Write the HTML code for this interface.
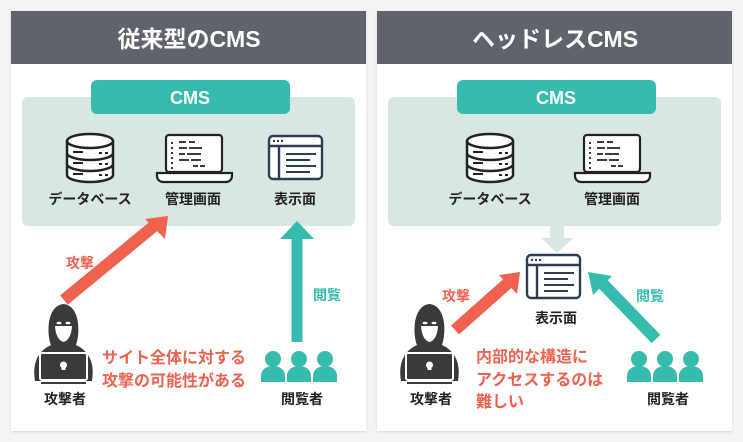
<!DOCTYPE html>
<html><head><meta charset="utf-8"><style>
html,body{margin:0;padding:0;background:#f3f4f6;}
svg{display:block;font-family:"Liberation Sans","Noto Sans CJK JP",sans-serif;}
</style></head><body>
<svg width="743" height="442" viewBox="0 0 743 442" xmlns="http://www.w3.org/2000/svg">
<defs>
<g id="db" fill="#fff" stroke="#222" stroke-width="2.5">
  <path d="M0,8 v34 a23,7 0 0 0 46,0 v-34"/>
  <ellipse cx="23" cy="8" rx="23" ry="7"/>
  <path d="M0,20 a23,7 0 0 0 46,0 M0,31 a23,7 0 0 0 46,0" fill="none"/>
  <path d="M6,19 h10 M6,30 h10 M6,41 h10 M32,20 h3 M38,20 h3 M32,31 h3 M38,31 h3 M32,42 h3 M38,42 h3" stroke-width="2"/>
</g>
<g id="lap" stroke="#222" stroke-width="2.2" fill="#fff">
  <rect x="9" y="0" width="56" height="37" rx="3"/>
  <path d="M0,38 h75 v3 a6,6 0 0 1 -6,6 h-63 a6,6 0 0 1 -6,-6z"/>
  <g stroke-width="1.8">
  <path d="M15,7 v2 M15,12 v2 M15,17 v2 M15,22 v2 M15,27 v2 M15,32 v2"/>
  <path d="M22,7 h7 M32,7 h6 M22,13 h8 M32,13 h13 M22,19 h6 M30,19 h14 M22,25 h10 M34,25 h10 M36,31 h5 M43,31 h5"/>
  </g>
</g>
<g id="disp" stroke="#2c3e50" stroke-width="2.4" fill="#fff">
  <rect x="0" y="0" width="53" height="43" rx="4"/>
  <path d="M0,10 h53 M10,10 v33" fill="none"/>
  <path d="M17,18 h30 M17,24 h24 M17,30 h30 M17,36 h24" fill="none" stroke-width="2"/>
  <circle cx="5" cy="5" r="0.8" fill="#2c3e50" stroke-width="0.8"/><circle cx="9" cy="5" r="0.8" fill="#2c3e50" stroke-width="0.8"/><circle cx="13" cy="5" r="0.8" fill="#2c3e50" stroke-width="0.8"/>
</g>
<g id="hack">
  <path d="M3,78 C0,60 6,48 19,42 C15,32 14,3 31.5,1 C49,3 48,32 44,42 C57,48 63,60 60,78z" fill="#3a3a3a"/>
  <path d="M23,21 h17 c0,11 -4,17 -8.5,18 c-4.5,-1 -8.5,-7 -8.5,-18z" fill="#fff"/>
  <path d="M22,17 h19 v6 h-19z" fill="#3a3a3a"/>
  <ellipse cx="27" cy="20" rx="2.5" ry="1.3" fill="#fff"/><ellipse cx="36" cy="20" rx="2.5" ry="1.3" fill="#fff"/>
  <rect x="8" y="50" width="47" height="27" rx="2" fill="#3a3a3a" stroke="#fff" stroke-width="2"/>
  <circle cx="31.5" cy="62" r="3.5" fill="#fff"/><rect x="29.5" y="64" width="4" height="3" fill="#fff"/>
  <rect x="9" y="79" width="45" height="2" fill="#3a3a3a"/>
</g>
<g id="person" fill="#36bcad">
  <circle cx="12" cy="9" r="8"/>
  <path d="M0,32 v-6 c0,-6 5,-10 12,-10 c7,0 12,4 12,10 v6z"/>
</g>
<filter id="sh" x="-5%" y="-5%" width="110%" height="110%"><feDropShadow dx="0" dy="1" stdDeviation="1.2" flood-color="#000" flood-opacity="0.12"/></filter>
</defs>

<!-- LEFT PANEL -->
<rect x="11" y="11" width="355" height="420" fill="#fff" filter="url(#sh)"/>
<rect x="11" y="11" width="355" height="53" fill="#5f636c"/>
<text x="189" y="47" text-anchor="middle" font-size="23" font-weight="bold" fill="#fff">従来型のCMS</text>
<rect x="22" y="97" width="333" height="129" rx="6" fill="#d8e6e4"/>
<rect x="91" y="80" width="199" height="34" rx="6" fill="#36bcad"/>
<text x="190" y="104" text-anchor="middle" font-size="18" font-weight="bold" fill="#fff">CMS</text>
<use href="#db" x="67" y="133"/>
<use href="#lap" x="157" y="135"/>
<use href="#disp" x="269" y="136"/>
<g font-size="14" font-weight="bold" fill="#222" text-anchor="middle">
<text x="90" y="204">データベース</text>
<text x="193" y="204">管理画面</text>
<text x="295" y="204">表示面</text>
</g>
<path d="M64,300 L154,226" stroke="#ef6250" stroke-width="12"/>
<path d="M145,219 L168,216 L165,239z" fill="#ef6250"/>
<text x="80" y="268" text-anchor="middle" font-size="14" font-weight="bold" fill="#ef6250">攻撃</text>
<path d="M297,342 V238" stroke="#36bcad" stroke-width="11"/>
<path d="M280,239 L297,221 L314,239z" fill="#36bcad"/>
<text x="327" y="300" text-anchor="middle" font-size="14" font-weight="bold" fill="#36bcad">閲覧</text>
<use href="#hack" x="32" y="303"/>
<text x="65" y="404" text-anchor="middle" font-size="14" font-weight="bold" fill="#222">攻撃者</text>
<g font-size="16" font-weight="bold" fill="#ef6250">
<text x="102" y="363">サイト全体に対する</text>
<text x="102" y="386">攻撃の可能性がある</text>
</g>
<use href="#person" x="261" y="350"/><use href="#person" x="287" y="350"/><use href="#person" x="313" y="350"/>
<text x="302" y="404" text-anchor="middle" font-size="14" font-weight="bold" fill="#222">閲覧者</text>

<!-- RIGHT PANEL -->
<rect x="377" y="11" width="355" height="420" fill="#fff" filter="url(#sh)"/>
<rect x="377" y="11" width="355" height="53" fill="#5f636c"/>
<text x="555" y="47" text-anchor="middle" font-size="23" font-weight="bold" fill="#fff">ヘッドレスCMS</text>
<rect x="388" y="97" width="333" height="129" rx="6" fill="#d8e6e4"/>
<rect x="457" y="80" width="199" height="34" rx="6" fill="#36bcad"/>
<text x="556" y="104" text-anchor="middle" font-size="18" font-weight="bold" fill="#fff">CMS</text>
<use href="#db" x="467" y="133"/>
<use href="#lap" x="575" y="135"/>
<g font-size="14" font-weight="bold" fill="#222" text-anchor="middle">
<text x="490" y="204">データベース</text>
<text x="612" y="204">管理画面</text>
<text x="556" y="323">表示面</text>
</g>
<path d="M550,226 h14 v12 h9 l-16,15 l-16,-15 h9z" fill="#d8e6e4"/>
<use href="#disp" x="527" y="255"/>
<path d="M455,330 L508,283" stroke="#ef6250" stroke-width="12"/>
<path d="M499,275 L520,272 L517,294z" fill="#ef6250"/>
<text x="456" y="301" text-anchor="middle" font-size="14" font-weight="bold" fill="#ef6250">攻撃</text>
<path d="M656,339 L603,284" stroke="#36bcad" stroke-width="12"/>
<path d="M588,272 L612,276 L593,295z" fill="#36bcad"/>
<text x="650" y="301" text-anchor="middle" font-size="14" font-weight="bold" fill="#36bcad">閲覧</text>
<use href="#hack" x="398" y="303"/>
<text x="431" y="404" text-anchor="middle" font-size="14" font-weight="bold" fill="#222">攻撃者</text>
<g font-size="16" font-weight="bold" fill="#ef6250">
<text x="476" y="362">内部的な構造に</text>
<text x="476" y="385">アクセスするのは</text>
<text x="476" y="407">難しい</text>
</g>
<use href="#person" x="627" y="350"/><use href="#person" x="653" y="350"/><use href="#person" x="679" y="350"/>
<text x="668" y="404" text-anchor="middle" font-size="14" font-weight="bold" fill="#222">閲覧者</text>
</svg>
</body></html>
